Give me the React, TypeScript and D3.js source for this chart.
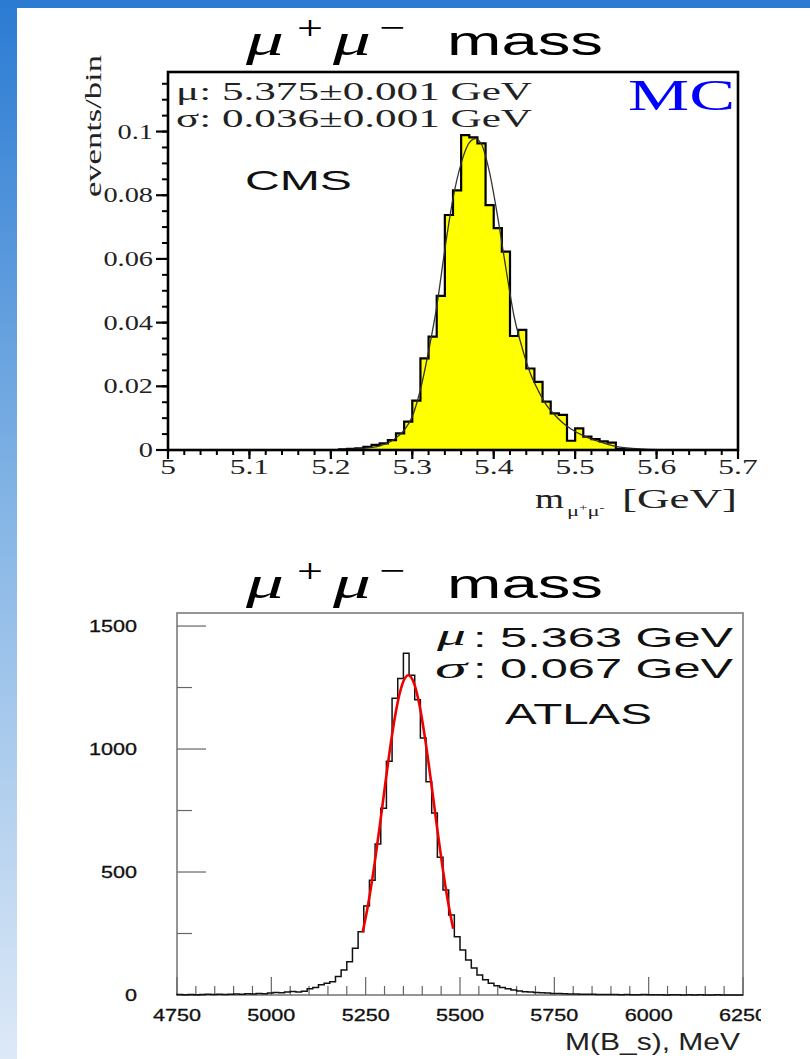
import * as d3 from "d3";

// ---- CMS panel (top): bin contents, 10 MeV bins starting at 5.21 GeV
const cmsBinStart = 5.21;
const cmsBinWidth = 0.01;
const cmsCounts = [
  0.0002, 0.0004, 0.0005, 0.001, 0.0016, 0.0021, 0.0031, 0.0052, 0.0089,
  0.0155, 0.0288, 0.0356, 0.0484, 0.0738, 0.0815, 0.0989, 0.0982, 0.0963,
  0.0769, 0.0697, 0.0623, 0.0358, 0.0377, 0.0256, 0.0214, 0.0152, 0.0115,
  0.011, 0.0029, 0.0068, 0.0042, 0.0034, 0.0027, 0.0023, 0.0004, 0.0002,
];
// fitted curve
const cmsFitX = [
  5.2, 5.22, 5.24, 5.26, 5.27, 5.28, 5.29, 5.3, 5.31, 5.32, 5.33, 5.34, 5.35,
  5.36, 5.37, 5.3775, 5.385, 5.395, 5.405, 5.415, 5.425, 5.435, 5.445, 5.455,
  5.465, 5.475, 5.485, 5.495, 5.51, 5.525, 5.54, 5.555, 5.57, 5.59, 5.62,
];
const cmsFitY = [
  0.0001, 0.0002, 0.0005, 0.0013, 0.0022, 0.0038, 0.0062, 0.0105, 0.019,
  0.031, 0.045, 0.063, 0.079, 0.09, 0.0965, 0.0978, 0.096, 0.087, 0.073,
  0.057, 0.042, 0.032, 0.024, 0.0185, 0.014, 0.011, 0.0085, 0.0066, 0.0045,
  0.003, 0.0018, 0.0009, 0.0005, 0.0002, 0.0001,
];
const cmsXTicks = [5, 5.1, 5.2, 5.3, 5.4, 5.5, 5.6, 5.7];
const cmsXTickLabels = ["5", "5.1", "5.2", "5.3", "5.4", "5.5", "5.6", "5.7"];
const cmsYTicks = [0, 0.02, 0.04, 0.06, 0.08, 0.1];
const cmsYTickLabels = ["0", "0.02", "0.04", "0.06", "0.08", "0.1"];

// ---- ATLAS panel (bottom): 100 bins of 15 MeV from 4750 MeV
const atlasBinStart = 4750;
const atlasBinWidth = 15;
const atlasCounts = [
  2, 1, 2, 1, 2, 3, 2, 3, 2, 3,
  4, 3, 5, 4, 6, 5, 8, 10, 9, 12,
  14, 12, 15, 25, 30, 42, 48, 54, 75, 102,
  135, 190, 257, 362, 467, 614, 759, 950, 1206, 1287,
  1389, 1300, 1200, 1045, 867, 740, 560, 427, 325, 237,
  183, 142, 110, 81, 62, 48, 38, 30, 25, 20,
  16, 13, 12, 10, 9, 8, 6, 6, 5, 4,
  4, 3, 3, 3, 2, 2, 2, 2, 1, 2,
  1, 1, 2, 1, 1, 1, 0, 1, 1, 0,
  1, 0, 1, 0, 0, 1, 0, 0, 0, 0,
];
const atlasFitX = [
  5242, 5257, 5272, 5287, 5302, 5317, 5332, 5347, 5363, 5378, 5393, 5408,
  5423, 5438, 5453, 5468, 5482,
];
const atlasFitY = [
  255, 372, 517, 683, 859, 1027, 1168, 1263, 1300, 1268, 1176, 1037, 871,
  695, 527, 381, 269,
];
const atlasXTicks = [4750, 5000, 5250, 5500, 5750, 6000, 6250];
const atlasYTicks = [0, 500, 1000, 1500];

const serif = "'Liberation Serif', 'Times New Roman', serif";
const sans = "'Liberation Sans', Arial, Helvetica, sans-serif";

function stepPoints(start: number, width: number, counts: number[]) {
  const pts: [number, number][] = [[start, 0]];
  counts.forEach((c, i) => pts.push([start + i * width, c]));
  pts.push([start + counts.length * width, 0]);
  return pts;
}

function Title({ y }: { y: number }) {
  return (
    <g fill="#000">
      <text x={246} y={y} fontFamily={serif} fontStyle="italic" fontSize={46} textLength={38} lengthAdjust="spacingAndGlyphs">μ</text>
      <text x={297} y={y - 16} fontFamily={serif} fontSize={34} textLength={26} lengthAdjust="spacingAndGlyphs">+</text>
      <text x={333} y={y} fontFamily={serif} fontStyle="italic" fontSize={46} textLength={38} lengthAdjust="spacingAndGlyphs">μ</text>
      <text x={379} y={y - 16} fontFamily={serif} fontSize={34} textLength={26} lengthAdjust="spacingAndGlyphs">−</text>
      <text x={447} y={y} fontFamily={sans} fontSize={40} textLength={156} lengthAdjust="spacingAndGlyphs">mass</text>
    </g>
  );
}

function CmsPanel() {
  const x = d3.scaleLinear().domain([5, 5.7]).range([168, 738]);
  const y = d3.scaleLinear().domain([0, 0.1187]).range([450, 72]);
  const pts = stepPoints(cmsBinStart, cmsBinWidth, cmsCounts);
  const area = d3
    .area<[number, number]>()
    .x((d) => x(d[0]))
    .y0(y(0))
    .y1((d) => y(d[1]))
    .curve(d3.curveStepAfter);
  const outline = d3
    .line<[number, number]>()
    .x((d) => x(d[0]))
    .y((d) => y(d[1]))
    .curve(d3.curveStepAfter);
  const fit = d3
    .line<number>()
    .x((d) => x(d))
    .y((d, i) => y(cmsFitY[i]))
    .curve(d3.curveMonotoneX);
  const yMinor = d3.range(0, 0.1186, 0.005);
  const xMinor = d3.range(5, 5.7001, 0.02);

  return (
    <g>
      <Title y={55} />
      <path d={area(pts) ?? ""} fill="#ffff00" />
      <path d={outline(pts) ?? ""} fill="none" stroke="#000" strokeWidth={2.2} />
      <path d={fit(cmsFitX) ?? ""} fill="none" stroke="#333" strokeWidth={1.3} />
      <rect x={x(5)} y={y(0.1187)} width={x(5.7) - x(5)} height={y(0) - y(0.1187)} fill="none" stroke="#000" strokeWidth={2.6} />
      {yMinor.map((v) => (
        <line key={"ym" + v} x1={x(5) - 6} x2={x(5)} y1={y(v)} y2={y(v)} stroke="#000" strokeWidth={2} />
      ))}
      {cmsYTicks.map((v, i) => (
        <g key={"yt" + v}>
          <line x1={x(5) - 12} x2={x(5)} y1={y(v)} y2={y(v)} stroke="#000" strokeWidth={2.2} />
          <text transform={`translate(153,${y(v) + 7}) scale(1.35,1)`} textAnchor="end" fontFamily={serif} fontSize={21} fill="#222">
            {cmsYTickLabels[i]}
          </text>
        </g>
      ))}
      {xMinor.map((v) => (
        <line key={"xm" + v} x1={x(v)} x2={x(v)} y1={y(0)} y2={y(0) + 5} stroke="#000" strokeWidth={2} />
      ))}
      {cmsXTicks.map((v, i) => (
        <g key={"xt" + v}>
          <line x1={x(v)} x2={x(v)} y1={y(0)} y2={y(0) + 9} stroke="#000" strokeWidth={2.2} />
          <text transform={`translate(${x(v)},474) scale(1.5,1)`} textAnchor="middle" fontFamily={serif} fontSize={21} fill="#222">
            {cmsXTickLabels[i]}
          </text>
        </g>
      ))}
      <text transform="translate(101,126) rotate(-90)" textAnchor="middle" fontFamily={serif} fontSize={23} textLength={142} lengthAdjust="spacingAndGlyphs" fill="#222">
        events/bin
      </text>
      <text x={535} y={508} fontFamily={serif} fontSize={28} textLength={29} lengthAdjust="spacingAndGlyphs" fill="#222">m</text>
      <text transform="translate(567,516) scale(1.5,1)" fontFamily={serif} fontSize={15} fill="#222">
        μ<tspan dy={-5} fontSize={10}>+</tspan>
        <tspan dy={5}>μ</tspan>
        <tspan dy={-5} fontSize={10}>-</tspan>
      </text>
      <text x={622} y={508} fontFamily={serif} fontSize={28} textLength={115} lengthAdjust="spacingAndGlyphs" fill="#222">[GeV]</text>
      <text x={176} y={100} fontFamily={serif} fontSize={26} textLength={356} lengthAdjust="spacingAndGlyphs" fill="#222">
        μ: 5.375±0.001 GeV
      </text>
      <text x={176} y={127} fontFamily={serif} fontSize={26} textLength={356} lengthAdjust="spacingAndGlyphs" fill="#222">
        σ: 0.036±0.001 GeV
      </text>
      <text x={628} y={110} fontFamily={serif} fontSize={44} textLength={107} lengthAdjust="spacingAndGlyphs" fill="#0000ff">
        MC
      </text>
      <text x={245} y={190} fontFamily={sans} fontSize={28} textLength={107} lengthAdjust="spacingAndGlyphs" fill="#111">
        CMS
      </text>
    </g>
  );
}

function AtlasPanel() {
  const x = d3.scaleLinear().domain([4750, 6250]).range([177, 743]);
  const y = d3.scaleLinear().domain([0, 1553]).range([995, 613]);
  const pts = stepPoints(atlasBinStart, atlasBinWidth, atlasCounts);
  const outline = d3
    .line<[number, number]>()
    .x((d) => x(d[0]))
    .y((d) => y(d[1]))
    .curve(d3.curveStepAfter);
  const fit = d3
    .line<number>()
    .x((d) => x(d))
    .y((d, i) => y(atlasFitY[i]))
    .curve(d3.curveMonotoneX);
  const xMinor = d3.range(4750, 6251, 50);
  const yMinor = [250, 750, 1250];

  return (
    <g>
      <Title y={598} />
      <defs>
        <clipPath id="atlasClip">
          <rect x={0} y={0} width={761} height={1059} />
        </clipPath>
      </defs>
      <rect x={x(4750)} y={y(1553)} width={x(6250) - x(4750)} height={y(0) - y(1553)} fill="none" stroke="#8a8a8a" strokeWidth={1.8} />
      {atlasYTicks.map((v) => (
        <line key={"yt" + v} x1={x(4750)} x2={x(4750) + 29} y1={y(v)} y2={y(v)} stroke="#666" strokeWidth={1.2} />
      ))}
      {yMinor.map((v) => (
        <line key={"ym" + v} x1={x(4750)} x2={x(4750) + 15} y1={y(v)} y2={y(v)} stroke="#666" strokeWidth={1.2} />
      ))}
      {xMinor.map((v) => (
        <line key={"xm" + v} x1={x(v)} x2={x(v)} y1={y(0)} y2={y(0) - ((v - 4750) % 250 === 0 ? 18 : 9)} stroke="#666" strokeWidth={1.2} />
      ))}
      <path d={outline(pts) ?? ""} fill="none" stroke="#111" strokeWidth={1.5} />
      <path d={fit(atlasFitX) ?? ""} fill="none" stroke="#ee0000" strokeWidth={2.6} />
      {atlasYTicks.map((v) => (
        <text key={"yl" + v} transform={`translate(137,${y(v) + 6}) scale(1.27,1)`} textAnchor="end" fontFamily={sans} fontSize={17} fill="#111" stroke="#111" strokeWidth={0.3}>
          {v}
        </text>
      ))}
      <g clipPath="url(#atlasClip)">
        {atlasXTicks.map((v) => (
          <text key={"xl" + v} transform={`translate(${x(v)},1021) scale(1.27,1)`} textAnchor="middle" fontFamily={sans} fontSize={17} fill="#111" stroke="#111" strokeWidth={0.3}>
            {v}
          </text>
        ))}
      </g>
      <text x={565} y={1050} fontFamily={sans} fontSize={24} textLength={175} lengthAdjust="spacingAndGlyphs" fill="#222">
        M(B_s), MeV
      </text>
      <text x={437} y={645} fontFamily={serif} fontStyle="italic" fontSize={29} textLength={29} lengthAdjust="spacingAndGlyphs" fill="#111">μ</text>
      <text x={473} y={647} fontFamily={sans} fontSize={28} textLength={260} lengthAdjust="spacingAndGlyphs" fill="#111">
        : 5.363 GeV
      </text>
      <text x={435} y={678} fontFamily={serif} fontStyle="italic" fontSize={30} textLength={32} lengthAdjust="spacingAndGlyphs" fill="#111">σ</text>
      <text x={473} y={678} fontFamily={sans} fontSize={28} textLength={260} lengthAdjust="spacingAndGlyphs" fill="#111">
        : 0.067 GeV
      </text>
      <text x={505} y={724} fontFamily={sans} fontSize={29} textLength={147} lengthAdjust="spacingAndGlyphs" fill="#111">
        ATLAS
      </text>
    </g>
  );
}

export default function App() {
  return (
    <svg
      width={810}
      height={1059}
      viewBox="0 0 810 1059"
      style={{ position: "absolute", left: 0, top: 0, background: "#fff" }}
    >
      <defs>
        <linearGradient id="strip" x1="0" y1="0" x2="0" y2="1">
          <stop offset="0" stopColor="#2b7bd3" />
          <stop offset="0.5" stopColor="#88b7e6" />
          <stop offset="1" stopColor="#dde9f7" />
        </linearGradient>
      </defs>
      <rect x={0} y={0} width={810} height={1059} fill="#fff" />
      <rect x={0} y={0} width={17} height={1059} fill="url(#strip)" />
      <rect x={0} y={0} width={810} height={8} fill="#2b7bd3" />
      <CmsPanel />
      <AtlasPanel />
    </svg>
  );
}
